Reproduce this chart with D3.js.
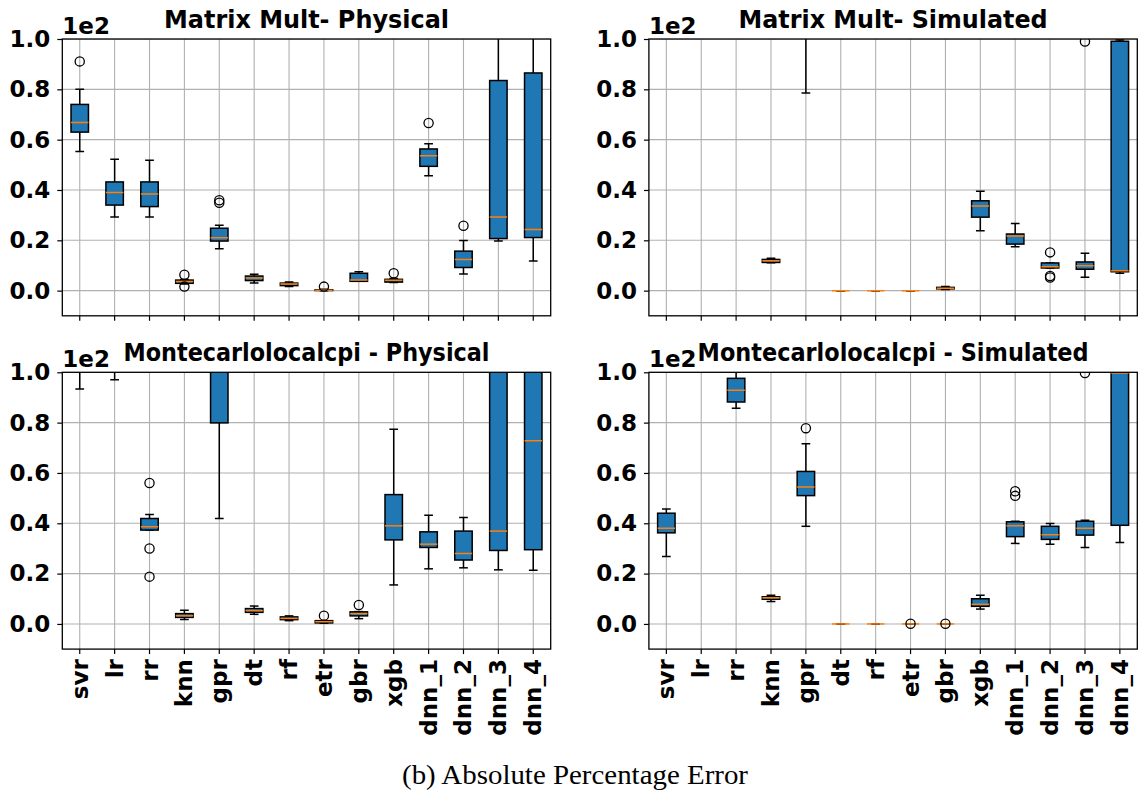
<!DOCTYPE html>
<html>
<head>
<meta charset="utf-8">
<script src="https://cdn.jsdelivr.net/npm/d3@7"></script>
<style>
  body { margin: 0; background: #fff; }
  svg { display: block; }
</style>
</head>
<body>
<svg id="chart" width="1141" height="796"></svg>
<script>
// Models compared on the x axis
const models = ["svr", "lr", "rr", "knn", "gpr", "dt", "rf", "etr", "gbr", "xgb", "dnn_1", "dnn_2", "dnn_3", "dnn_4"];

// Absolute percentage error (%), y ticks shown with a 1e2 offset
const yTicks = [0, 20, 40, 60, 80, 100];

// Box statistics per model: [whisker low, Q1, median, Q3, whisker high, outliers]
const mmPhysical = [
  [55.3, 63.0, 66.8, 74.0, 80.0, [91.1]],
  [29.3, 34.0, 39.0, 43.2, 52.2, []],
  [29.3, 33.4, 38.4, 43.2, 51.8, []],
  [2.6, 2.9, 3.6, 4.2, 4.4, [6.3, 1.6]],
  [16.6, 19.7, 21.0, 24.8, 26.0, [35.9, 34.9]],
  [3.0, 4.0, 5.0, 5.8, 6.5, []],
  [1.6, 2.0, 2.6, 3.0, 3.4, []],
  [0.0, 0.05, 0.15, 0.35, 0.6, [1.6]],
  [3.7, 3.7, 4.2, 6.9, 7.5, []],
  [3.2, 3.4, 4.1, 4.5, 4.8, [6.9]],
  [45.7, 49.4, 53.6, 56.3, 58.4, [66.6]],
  [6.6, 9.2, 12.4, 15.7, 19.9, [25.8]],
  [19.7, 20.7, 29.3, 83.5, 130, []],
  [11.8, 21.1, 24.3, 86.5, 135, []]
];

const mmSimulated = [
  [140, 180, 220, 260, 320, []],
  [150, 190, 230, 270, 330, []],
  [150, 190, 230, 270, 330, []],
  [11.1, 11.2, 11.9, 12.4, 12.9, []],
  [78.5, 130, 160, 200, 260, []],
  [0, 0, 0, 0, 0, []],
  [0, 0, 0, 0, 0, []],
  [0, 0, 0, 0, 0, []],
  [0.5, 0.7, 0.9, 1.3, 1.6, []],
  [23.8, 29.2, 33.6, 35.7, 39.5, []],
  [17.4, 18.5, 21.7, 22.5, 26.7, []],
  [9.0, 9.0, 9.5, 11.0, 11.0, [15.2, 5.8, 5.2]],
  [5.3, 8.5, 9.9, 11.4, 14.9, [99.0]],
  [6.9, 7.5, 7.9, 99.1, 99.6, []]
];

const mcPhysical = [
  [93.4, 110, 130, 160, 200, []],
  [97.0, 115, 140, 170, 210, []],
  [37.3, 37.3, 38.6, 41.9, 43.5, [56.0, 30.0, 18.8]],
  [1.8, 2.6, 3.3, 4.1, 5.4, []],
  [41.9, 79.9, 120, 160, 220, []],
  [3.8, 4.6, 5.3, 6.1, 7.1, []],
  [1.3, 1.7, 2.2, 2.8, 3.2, []],
  [0.3, 0.4, 0.9, 1.3, 1.3, [3.3]],
  [2.1, 3.2, 4.1, 4.8, 4.9, [7.5]],
  [15.5, 33.4, 39.0, 51.4, 77.4, []],
  [21.9, 30.4, 31.7, 36.6, 43.2, []],
  [22.3, 25.4, 28.0, 36.9, 42.3, []],
  [21.5, 29.2, 36.9, 120, 200, []],
  [21.3, 29.5, 72.8, 130, 220, []]
];

const mcSimulated = [
  [26.8, 36.2, 38.0, 44.0, 45.7, []],
  [140, 180, 220, 260, 320, []],
  [85.7, 88.2, 92.9, 97.6, 100.2, []],
  [8.9, 9.8, 10.4, 10.8, 11.4, []],
  [38.8, 51.0, 54.4, 60.6, 71.6, [77.8]],
  [0, 0, 0, 0, 0, []],
  [0, 0, 0, 0, 0, []],
  [0, 0, 0, 0, 0, [0.05]],
  [0, 0, 0, 0, 0, [0.05]],
  [5.9, 7.0, 7.8, 10.0, 11.4, []],
  [32.0, 34.7, 39.0, 40.6, 40.8, [52.7, 50.9]],
  [31.7, 33.6, 35.4, 38.8, 39.9, []],
  [30.4, 35.3, 38.0, 40.8, 41.2, [99.7]],
  [32.4, 39.2, 99.7, 104, 130, []]
];

const titles = ["Matrix Mult- Physical", "Matrix Mult- Simulated", "Montecarlolocalcpi - Physical", "Montecarlolocalcpi - Simulated"];
const panelStats = [mmPhysical, mmSimulated, mcPhysical, mcSimulated];
const caption = "(b) Absolute Percentage Error";

// Layout of the 2x2 grid of axes
const colLeft = [62.3, 648.9];
const rowTop = [39, 372.3];
const axW = 488.4;
const axH = 276.8;
const titleWidths = [285, 309, 366, 391];

const BLUE = "#1f77b4";
const ORANGE = "#ff7f0e";
const GRID = "#b0b0b0";
const FONT = "'DejaVu Sans', sans-serif";

const svg = d3.select("#chart");
const defs = svg.append("defs");

panelStats.forEach((stats, i) => {
  const row = Math.floor(i / 2), col = i % 2;
  const left = colLeft[col], top = rowTop[row];

  const x = d3.scaleBand().domain(models).range([left, left + axW]).paddingInner(0).paddingOuter(0);
  const y = d3.scaleLinear().domain([-10, 100]).range([top + axH, top]);
  const bw = x.bandwidth();
  const boxW = bw * 0.5;
  const capW = bw * 0.25;

  const clipId = "clip" + i;
  defs.append("clipPath").attr("id", clipId)
    .append("rect").attr("x", left).attr("y", top).attr("width", axW).attr("height", axH);

  const g = svg.append("g");

  // grid
  const grid = g.append("g").attr("clip-path", `url(#${clipId})`);
  grid.selectAll("line.v").data(models).join("line")
    .attr("x1", d => x(d) + bw / 2).attr("x2", d => x(d) + bw / 2)
    .attr("y1", top).attr("y2", top + axH)
    .attr("stroke", GRID).attr("stroke-width", 1.1);
  grid.selectAll("line.h").data(yTicks).join("line")
    .attr("x1", left).attr("x2", left + axW)
    .attr("y1", d => y(d)).attr("y2", d => y(d))
    .attr("stroke", GRID).attr("stroke-width", 1.1);

  // boxes
  const plot = g.append("g").attr("clip-path", `url(#${clipId})`);
  const items = plot.selectAll("g.box").data(stats.map((s, k) => ({ m: models[k], s })))
    .join("g").attr("class", "box");

  items.each(function (d) {
    const el = d3.select(this);
    const cx = x(d.m) + bw / 2;
    const [lo, q1, med, q3, hi, out] = d.s;
    // whiskers
    el.append("line").attr("x1", cx).attr("x2", cx).attr("y1", y(q1)).attr("y2", y(lo))
      .attr("stroke", "#000").attr("stroke-width", 1.5);
    el.append("line").attr("x1", cx).attr("x2", cx).attr("y1", y(q3)).attr("y2", y(hi))
      .attr("stroke", "#000").attr("stroke-width", 1.5);
    // caps
    [lo, hi].forEach(v => {
      el.append("line").attr("x1", cx - capW / 2).attr("x2", cx + capW / 2)
        .attr("y1", y(v)).attr("y2", y(v))
        .attr("stroke", "#000").attr("stroke-width", 1.5);
    });
    // box
    el.append("rect").attr("x", cx - boxW / 2).attr("width", boxW)
      .attr("y", y(q3)).attr("height", Math.max(0, y(q1) - y(q3)))
      .attr("fill", BLUE).attr("stroke", "#000").attr("stroke-width", 1.5);
    // median
    el.append("line").attr("x1", cx - boxW / 2).attr("x2", cx + boxW / 2)
      .attr("y1", y(med)).attr("y2", y(med))
      .attr("stroke", ORANGE).attr("stroke-width", 1.5);
    // fliers
    el.selectAll("circle").data(out).join("circle")
      .attr("cx", cx).attr("cy", v => y(v)).attr("r", 4.6)
      .attr("fill", "none").attr("stroke", "#000").attr("stroke-width", 1.3);
  });

  // y axis
  const yAxis = g.append("g").attr("transform", `translate(${left},0)`)
    .call(d3.axisLeft(y).tickValues(yTicks).tickFormat(d => (d / 100).toFixed(1)).tickSize(5).tickPadding(7).tickSizeOuter(0));
  yAxis.select(".domain").remove();
  yAxis.selectAll(".tick line").attr("stroke", "#000").attr("stroke-width", 1.2);
  yAxis.selectAll(".tick text").attr("fill", "#000")
    .style("font-family", FONT).style("font-size", "23px").style("font-weight", "bold");

  // x axis
  const xAxis = g.append("g").attr("transform", `translate(0,${top + axH})`)
    .call(d3.axisBottom(x).tickSize(5).tickSizeOuter(0));
  xAxis.select(".domain").remove();
  xAxis.selectAll(".tick line").attr("stroke", "#000").attr("stroke-width", 1.2);
  if (row === 1) {
    xAxis.selectAll(".tick text")
      .attr("fill", "#000")
      .attr("x", 0).attr("y", 0).attr("dy", null)
      .attr("text-anchor", "end")
      .attr("dominant-baseline", "central")
      .attr("transform", "translate(0,10) rotate(-90)")
      .style("font-family", FONT).style("font-size", "23px").style("font-weight", "bold");
  } else {
    xAxis.selectAll(".tick text").remove();
  }

  // spines
  g.append("rect").attr("x", left).attr("y", top).attr("width", axW).attr("height", axH)
    .attr("fill", "none").attr("stroke", "#000").attr("stroke-width", 1.3);

  // offset label
  g.append("text").attr("x", left).attr("y", top - 5)
    .text("1e2")
    .style("font-family", FONT).style("font-size", "23px").style("font-weight", "bold");

  // title
  g.append("text").attr("x", left + axW / 2).attr("y", top - 11)
    .attr("text-anchor", "middle")
    .attr("textLength", titleWidths[i]).attr("lengthAdjust", "spacingAndGlyphs")
    .text(titles[i])
    .style("font-family", FONT).style("font-size", "24px").style("font-weight", "bold");
});

// caption
svg.append("text").attr("x", 575).attr("y", 784)
  .attr("text-anchor", "middle")
  .attr("textLength", 346).attr("lengthAdjust", "spacingAndGlyphs")
  .text(caption)
  .style("font-family", "'Liberation Serif', serif").style("font-size", "27px");
</script>
</body>
</html>
